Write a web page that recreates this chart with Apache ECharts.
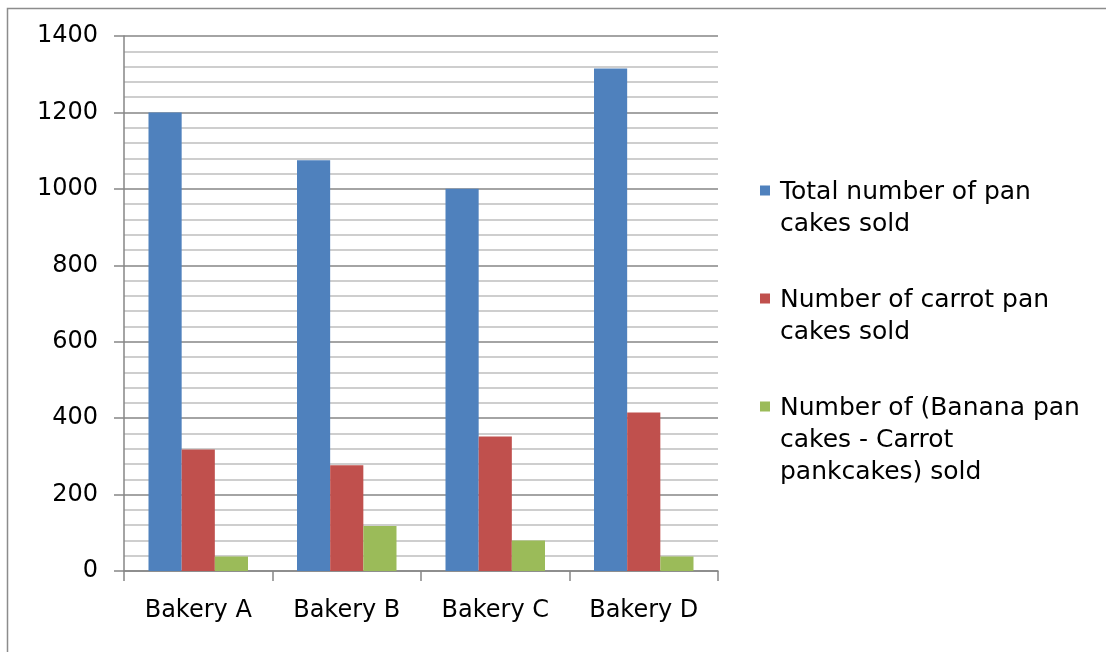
<!DOCTYPE html>
<html>
<head>
<meta charset="utf-8">
<script src="https://cdn.jsdelivr.net/npm/echarts@6/dist/echarts.min.js"></script>
<style>
html,body{margin:0;padding:0;background:#fff;}
#chart{width:1106px;height:652px;}
</style>
</head>
<body>
<div id="chart"></div>
<script>
const categories = ['Bakery A', 'Bakery B', 'Bakery C', 'Bakery D'];
const seriesNames = [
  'Total number of pan cakes sold',
  'Number of carrot pan cakes sold',
  'Number of (Banana pan cakes - Carrot pankcakes) sold'
];
const legendLabels = [
  'Total number of pan\ncakes sold',
  'Number of carrot pan\ncakes sold',
  'Number of (Banana pan\ncakes - Carrot\npankcakes) sold'
];
const totalSold = [1200, 1075, 1000, 1315];
const carrotSold = [318, 277, 352, 415];
const bananaMinusCarrot = [38, 118, 80, 38];
const colors = ['#4F81BD', '#C0504D', '#9BBB59'];

const FONT = 'DejaVu Sans';
const FS = 24;
const chart = echarts.init(document.getElementById('chart'), null, {renderer: 'canvas'});

function makeLegend(i, top, iconH, sliverY) {
  return {
    show: true,
    left: 760,
    top: top,
    orient: 'vertical',
    data: [seriesNames[i]],
    icon: 'path://M0,0h10v10h-10zM0,' + sliverY + 'h10v0.01h-10z',
    itemWidth: 10,
    itemHeight: iconH,
    itemGap: 0,
    padding: 0,
    selectedMode: false,
    formatter: function () { return legendLabels[i]; },
    textStyle: {fontFamily: FONT, fontSize: 25, color: '#000', lineHeight: 32, padding: [0, 0, 0, 5]}
  };
}

const option = {
  backgroundColor: '#fff',
  animation: false,
  color: colors,
  grid: {left: 124, top: 36, right: 388, bottom: 81, containLabel: false},
  graphic: [{
    type: 'rect',
    shape: {x: 7.5, y: 8.5, width: 1200, height: 700},
    style: {fill: 'none', stroke: '#8c8c8c', lineWidth: 1.5},
    silent: true, z: -10
  }],
  legend: [
    makeLegend(0, 176, 55, 45),
    makeLegend(1, 284, 55, 45),
    makeLegend(2, 392, 87, 77)
  ],
  xAxis: {
    type: 'category',
    data: categories,
    axisLine: {show: true, lineStyle: {color: '#868686', width: 1.5}},
    axisTick: {show: true, length: 10, lineStyle: {color: '#868686', width: 1.5}},
    axisLabel: {color: '#000', fontFamily: FONT, fontSize: FS, margin: 28},
    splitLine: {show: false}
  },
  yAxis: {
    type: 'value',
    min: 0,
    max: 1400,
    interval: 200,
    axisLine: {show: true, lineStyle: {color: '#868686', width: 1.5}},
    axisTick: {show: true, length: 10, lineStyle: {color: '#868686', width: 1.5}},
    axisLabel: {color: '#000', fontFamily: FONT, fontSize: FS, margin: 26, formatter: function (v) { return String(v); }},
    splitLine: {show: true, lineStyle: {color: '#868686', width: 1.5}},
    minorTick: {show: false, splitNumber: 5},
    minorSplitLine: {show: true, lineStyle: {color: '#bfbfbf', width: 1.5}}
  },
  series: [
    {name: seriesNames[0], type: 'bar', data: totalSold, barGap: '0%', barCategoryGap: '33%', itemStyle: {color: colors[0]}},
    {name: seriesNames[1], type: 'bar', data: carrotSold, barGap: '0%', barCategoryGap: '33%', itemStyle: {color: colors[1]}},
    {name: seriesNames[2], type: 'bar', data: bananaMinusCarrot, barGap: '0%', barCategoryGap: '33%', itemStyle: {color: colors[2]}}
  ]
};
chart.setOption(option);
</script>
</body>
</html>
